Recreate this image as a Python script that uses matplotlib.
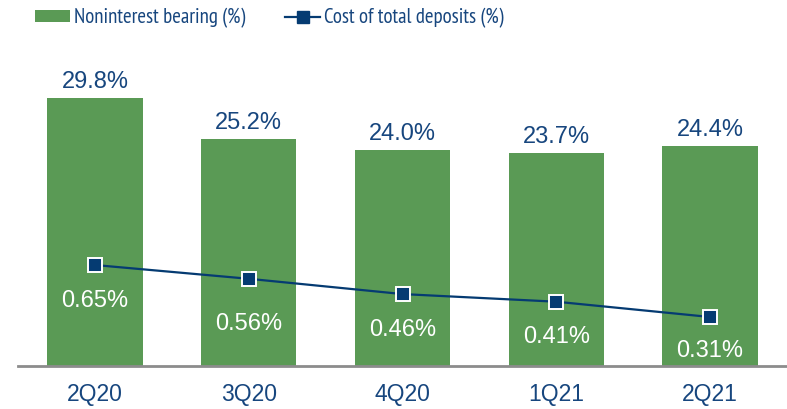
import matplotlib
matplotlib.use("Agg")
import matplotlib.pyplot as plt
from matplotlib.patches import Patch
from matplotlib.lines import Line2D

# ---- data ----
quarters = ["2Q20", "3Q20", "4Q20", "1Q21", "2Q21"]
noninterest_bearing = [29.8, 25.2, 24.0, 23.7, 24.4]
cost_of_deposits = [0.65, 0.56, 0.46, 0.41, 0.31]
bar_labels = ["29.8%", "25.2%", "24.0%", "23.7%", "24.4%"]
line_labels = ["0.65%", "0.56%", "0.46%", "0.41%", "0.31%"]

# ---- styles ----
GREEN = "#5A9A55"
NAVY = "#053B72"
TEXT = "#17467E"
line_label_offsets = [-30.0, -37.2, -30.0, -30.0, -29.0]  # points below marker (baseline)

plt.rcParams["font.family"] = ["Liberation Sans", "DejaVu Sans"]

fig = plt.figure(figsize=(7.87, 4.09), dpi=100)
W, H = 787, 409
ax = fig.add_axes([18 / W, (H - 366) / H, 769 / W, 306 / H])
x = list(range(len(quarters)))

bars = ax.bar(x, noninterest_bearing, width=0.62, color=GREEN, zorder=2)
ax.set_xlim(-0.5, len(quarters) - 0.5)
ax.set_ylim(0, 34)

for xi, v, lab in zip(x, noninterest_bearing, bar_labels):
    ax.annotate(lab, (xi, v), xytext=(0, 7.2), textcoords="offset points",
                ha="center", va="baseline", fontsize=17, color=TEXT)

ax2 = ax.twinx()
ax2.set_ylim(-0.0105, 1.991)
ax2.plot(x, cost_of_deposits, color=NAVY, lw=1.6, marker="s", markersize=9.5,
         markerfacecolor=NAVY, markeredgecolor="white", markeredgewidth=1.4, zorder=3)
for xi, v, lab, off in zip(x, cost_of_deposits, line_labels, line_label_offsets):
    ax2.annotate(lab, (xi, v), xytext=(0, off), textcoords="offset points",
                 ha="center", va="baseline", fontsize=17, color="white")

for a in (ax, ax2):
    for s in ("top", "right", "left"):
        a.spines[s].set_visible(False)
    a.set_yticks([])
ax2.spines["bottom"].set_visible(False)
ax.spines["bottom"].set_color("#8C8C8C")
ax.spines["bottom"].set_linewidth(2.0)
ax.set_xticks(x)
ax.set_xticklabels(quarters, fontsize=16.5, color=TEXT)
ax.tick_params(axis="x", length=0, pad=12)

handles = [
    Patch(facecolor=GREEN, edgecolor="none", label="Noninterest bearing (%)"),
    Line2D([0], [0], color=NAVY, lw=1.6, marker="s", markersize=8,
           markerfacecolor=NAVY, markeredgecolor=NAVY, label="Cost of total deposits (%)"),
]
FS = 15
fs_px = FS * 100 / 72
leg = fig.legend(handles=handles, loc="center left", bbox_to_anchor=(35 / W, 1 - 18 / H),
                 ncol=2, frameon=False, borderpad=0, borderaxespad=0,
                 handlelength=35 / fs_px, handleheight=11 / fs_px, handletextpad=4 / fs_px,
                 columnspacing=40 / fs_px,
                 prop={"family": ["PT Sans Narrow", "Roboto Condensed", "Liberation Sans"], "size": FS})
for t in leg.get_texts():
    t.set_color(TEXT)

fig.savefig("out.png", dpi=100)
